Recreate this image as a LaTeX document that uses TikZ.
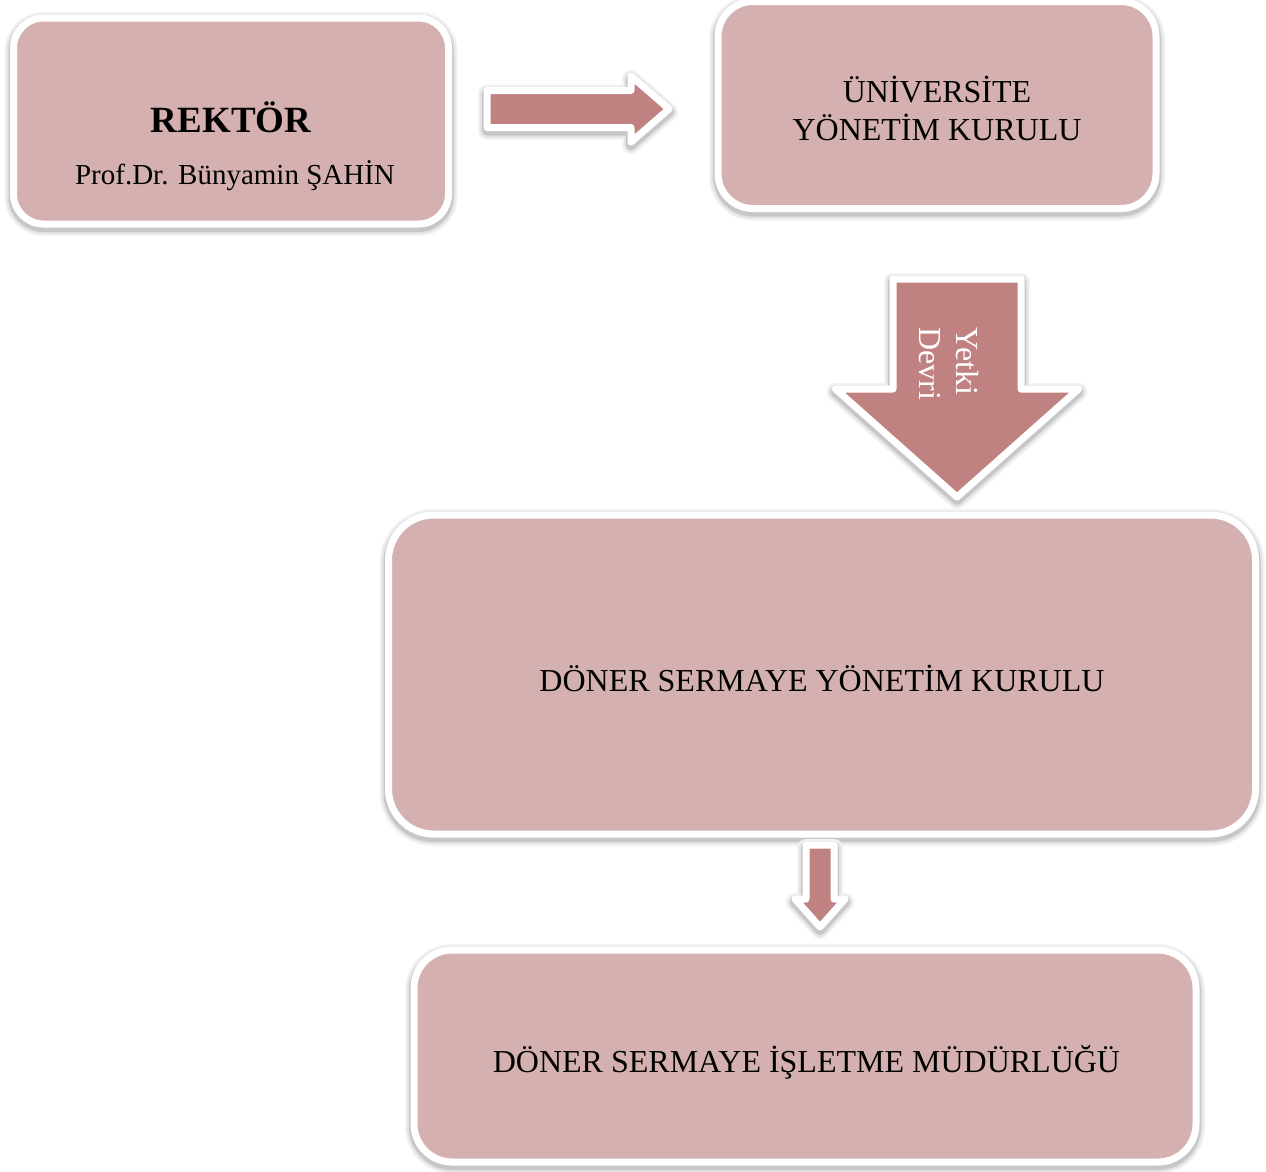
\documentclass[tikz,border=0pt]{standalone}
\usepackage{fontspec}
\setmainfont{Liberation Serif}
\usetikzlibrary{calc}
\definecolor{boxfill}{HTML}{D4B1B0}
\definecolor{arrfill}{HTML}{C08181}
\newcommand\rblockarrow[5]{%
  \path[arrowshape] let \p1=(#1), \p2=(#2) in
    (\x1,\y1+#3pt) -- (\x2-#5pt,\y1+#3pt) -- (\x2-#5pt,\y1+#4pt) -- (\x2,\y1)
    -- (\x2-#5pt,\y1-#4pt) -- (\x2-#5pt,\y1-#3pt) -- (\x1,\y1-#3pt) -- cycle;}
\newcommand\dblockarrow[5]{%
  \path[arrowshape] let \p1=(#1), \p2=(#2) in
    (\x1-#3pt,\y1) -- (\x1-#3pt,\y2+#5pt) -- (\x1-#4pt,\y2+#5pt) -- (\x1,\y2)
    -- (\x1+#4pt,\y2+#5pt) -- (\x1+#3pt,\y2+#5pt) -- (\x1+#3pt,\y1) -- cycle;}
\begin{document}
\begin{tikzpicture}[x=1pt,y=-1pt,
  halo/.style={
    preaction={draw=black!5, line width=18pt, line join=round, transform canvas={yshift=-3pt}},
    preaction={draw=black!11, line width=14pt, line join=round, transform canvas={yshift=-3pt}},
    preaction={draw=black!22, line width=10pt, line join=round, transform canvas={yshift=-3pt}}},
  box/.style={rectangle, rounded corners=#1, fill=boxfill, draw=white,
    line width=7pt, inner sep=0pt, outer sep=0pt, halo},
  arrowshape/.style={fill=arrfill, draw=white, line width=7pt, line join=round,
    halo},
  txt/.style={inner sep=0pt, font=\fontsize{32}{37}\selectfont, text=black}]
\useasboundingbox (0,0) rectangle (1266,1171);
\fill[white] (0,0) rectangle (1266,1171);

% boxes
\node[box=30pt, minimum width=435pt, minimum height=206pt] (rektor) at (231,121) {};
\node[box=35pt, minimum width=438pt, minimum height=207pt] (uyk) at (937,105) {};
\node[box=45pt, minimum width=867pt, minimum height=319pt] (dsyk) at (822,674.5) {};
\node[box=38pt, minimum width=782pt, minimum height=212pt] (dsim) at (805,1056) {};

% texts
\node[txt, anchor=base, font=\fontsize{37}{42}\selectfont\bfseries] (t1)
  at ($(rektor.center)+(0,11)$) {REKTÖR};
\node[txt, anchor=base, font=\fontsize{29}{34}\selectfont] (t2)
  at ($(rektor.center)+(4,63)$) {Prof.Dr. Bünyamin ŞAHİN};
\node[txt, anchor=base] (t3) at ($(uyk.center)+(0,-3)$) {ÜNİVERSİTE};
\node[txt, anchor=base] (t4) at ($(uyk.center)+(0,35)$) {YÖNETİM KURULU};
\node[txt, anchor=base] (t5) at ($(dsyk.center)+(0,16.5)$) {DÖNER SERMAYE YÖNETİM KURULU};
\node[txt, anchor=base] (t6) at ($(dsim.center)+(1.5,16)$) {DÖNER SERMAYE İŞLETME MÜDÜRLÜĞÜ};

% arrows
\coordinate (a1s) at ($(rektor.east)+(38.5,-12)$);
\coordinate (a1e) at ($(uyk.west)+(-49,4)$);
\rblockarrow{a1s}{a1e}{18.5}{33}{38}

\coordinate (a2s) at ($(uyk.south)+(20,70.5)$);
\coordinate (a2e) at ($(dsyk.north)+(135,-18)$);
\dblockarrow{a2s}{a2e}{64}{121.5}{108}
\node[txt, text=white, rotate=-90, align=left] (yd) at ($(a2s)+(-8,85)$) {Yetki\\Devri};

\coordinate (a3s) at ($(dsyk.south)+(-2,11)$);
\coordinate (a3e) at ($(dsim.north)+(15,-23)$);
\dblockarrow{a3s}{a3e}{14}{25}{28}
\end{tikzpicture}
\end{document}
